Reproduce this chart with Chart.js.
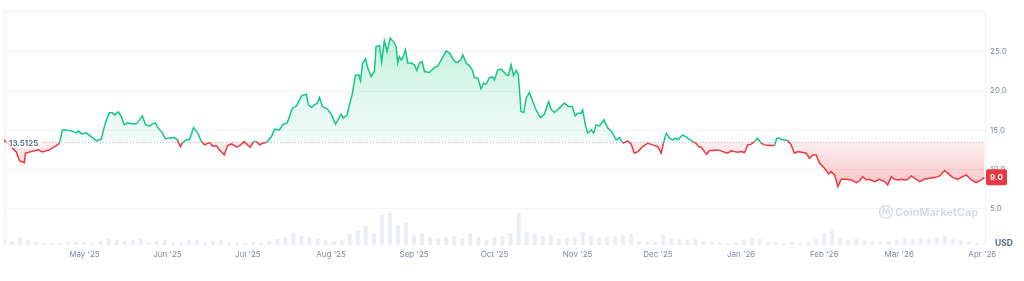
<!DOCTYPE html>
<html>
<head>
<meta charset="utf-8">
<script src="https://cdn.jsdelivr.net/npm/chart.js@4/dist/chart.umd.min.js"></script>
<style>
  html, body { margin: 0; padding: 0; background: #fff; }
  #wrap { width: 1024px; height: 281px; }
</style>
</head>
<body>
<div id="wrap"><canvas id="priceChart"></canvas></div>
<script>
// Days counted from 1 Apr 2025
const priceDays = [
  0, 4.6, 5.8, 6.9, 7.6, 8.0, 8.7, 9.5, 12.8, 14.3,
  16.9, 18.8, 19.9, 20.7, 21.8, 23.3, 25.1, 27.0, 27.8, 28.9,
  30.7, 32.6, 34.5, 36.3, 37.8, 39.3, 40.4, 41.2, 42.7, 43.8,
  44.9, 46.0, 47.5, 49.4, 50.5, 51.6, 52.8, 54.3, 55.4, 56.5,
  57.2, 59.1, 60.2, 61.7, 63.6, 64.7, 65.8, 66.6, 68.1, 69.2,
  70.7, 72.2, 73.7, 74.8, 76.6, 77.8, 79.3, 80.4, 82.2, 83.4,
  84.9, 86.7, 87.8, 89.7, 90.8, 91.9, 93.1, 94.2, 95.3, 96.4,
  97.9, 99.8, 100.9, 102.8, 103.9, 105.7, 107.6, 109.1, 111.0, 112.8,
  113.6, 114.7, 115.8, 116.9, 117.7, 118.8, 120.7, 122.2, 123.7, 125.8,
  126.6, 127.9, 128.9, 130.0, 131.1, 132.4, 133.0, 133.8, 134.9, 135.7,
  137.0, 138.2, 138.8, 140.1, 140.9, 141.9, 142.9, 144.1, 145.7, 146.3,
  146.9, 147.5, 148.2, 148.8, 149.8, 150.6, 151.9, 153.1, 154.0, 155.0,
  156.0, 156.9, 158.7, 160.6, 161.8, 163.1, 165.0, 166.2, 168.1, 169.3,
  170.6, 171.2, 172.4, 173.6, 174.7, 175.5, 176.8, 178.0, 178.9, 179.9,
  181.1, 182.4, 183.0, 184.2, 185.5, 187.4, 188.2, 189.2, 190.1, 191.1,
  191.9, 192.9, 193.9, 194.8, 196.0, 197.3, 198.5, 200.1, 201.6, 203.2,
  204.1, 205.4, 207.2, 209.1, 210.6, 212.0, 213.1, 214.1, 215.3, 215.9,
  216.9, 217.8, 219.1, 220.0, 220.9, 222.2, 223.8, 225.3, 226.5, 228.4,
  229.6, 230.9, 232.7, 234.0, 235.2, 236.5, 238.3, 240.2, 242.0, 243.9,
  245.2, 246.0, 247.1, 248.3, 249.5, 250.5, 251.4, 253.2, 255.1, 257.0,
  258.2, 259.2, 260.1, 261.3, 262.2, 263.2, 264.4, 266.3, 268.2, 270.0,
  271.3, 272.5, 273.8, 275.0, 276.3, 277.5, 278.8, 280.0, 281.2, 282.5,
  283.7, 285.6, 287.5, 288.3, 289.3, 290.6, 292.4, 293.7, 294.9, 296.2,
  298.0, 299.3, 300.5, 301.8, 303.0, 304.3, 306.1, 307.7, 308.6, 309.9,
  311.1, 312.4, 314.2, 316.1, 318.0, 319.2, 320.4, 321.7, 322.9, 324.8,
  326.6, 328.5, 329.7, 331.0, 332.2, 333.5, 334.7, 336.0, 337.2, 338.5,
  339.7, 341.6, 343.4, 345.3, 347.2, 349.1, 350.9, 352.1, 354.0, 355.9,
  357.7, 359.0, 360.9, 362.7, 364.6, 365.8
];
const prices = [
  13.78, 12.24, 11.10, 10.97, 10.84, 12.12, 12.12, 12.24, 12.50, 12.24,
  12.50, 12.88, 13.14, 13.39, 15.05, 15.05, 14.92, 14.67, 14.92, 14.54,
  14.67, 14.16, 13.65, 13.90, 15.94, 17.22, 17.22, 16.96, 17.35, 16.71,
  15.69, 15.94, 15.82, 15.82, 16.33, 16.84, 15.69, 15.56, 15.82, 15.94,
  15.43, 14.67, 13.90, 14.03, 14.07, 13.78, 12.92, 13.39, 13.78, 13.78,
  15.34, 14.71, 13.56, 13.14, 13.43, 13.01, 13.01, 12.50, 11.86, 13.05,
  13.27, 12.88, 13.01, 13.56, 13.14, 12.84, 13.56, 13.56, 13.14, 13.35,
  13.43, 14.20, 15.14, 15.05, 15.69, 15.98, 17.82, 18.11, 19.39, 19.60,
  18.24, 17.90, 18.24, 18.46, 19.17, 18.02, 17.69, 16.96, 15.78, 17.05,
  16.54, 16.88, 18.24, 19.73, 21.98, 22.07, 21.30, 23.56, 24.11, 22.92,
  21.85, 22.49, 25.68, 25.80, 23.69, 26.40, 25.04, 26.75, 26.11, 25.68,
  23.56, 24.40, 23.98, 24.27, 25.26, 23.56, 23.56, 23.34, 22.62, 23.56,
  23.76, 22.49, 22.36, 23.00, 23.13, 23.98, 25.13, 24.83, 23.76, 23.64,
  24.07, 24.62, 23.56, 23.25, 22.70, 21.72, 21.65, 20.28, 21.01, 20.88,
  21.72, 21.77, 21.43, 22.70, 22.79, 22.07, 21.98, 23.34, 21.98, 22.62,
  22.07, 17.39, 17.26, 19.09, 19.81, 18.66, 17.60, 16.62, 17.05, 18.66,
  17.69, 17.26, 17.82, 18.46, 18.02, 18.02, 16.84, 17.18, 17.18, 17.60,
  15.69, 14.63, 15.05, 14.63, 15.69, 15.56, 16.33, 15.27, 14.92, 13.78,
  14.07, 13.35, 13.65, 13.23, 12.08, 12.28, 12.92, 13.35, 13.14, 12.92,
  12.08, 13.35, 14.63, 13.99, 13.78, 13.99, 13.78, 14.41, 13.99, 13.56,
  13.35, 12.92, 12.84, 12.28, 11.95, 12.41, 12.41, 12.50, 12.28, 12.08,
  12.37, 12.28, 12.21, 12.28, 12.16, 13.14, 13.23, 13.56, 13.99, 13.35,
  13.14, 13.05, 13.05, 13.99, 13.99, 13.78, 13.69, 13.14, 12.08, 12.28,
  12.16, 12.08, 11.44, 11.86, 11.86, 10.80, 10.17, 9.44, 9.73, 9.31,
  7.82, 8.76, 8.76, 8.67, 8.33, 8.58, 9.09, 8.67, 8.76, 8.46,
  8.76, 8.46, 8.04, 9.09, 8.76, 8.67, 8.76, 8.67, 8.76, 9.18,
  8.89, 8.46, 8.76, 8.89, 8.97, 9.18, 9.86, 9.53, 8.97, 8.76,
  9.09, 9.31, 8.67, 8.33, 8.67, 9.00
];

// Volume, one value every 3 days from day 0 (arbitrary units)
const volumeStepDays = 3;
const volumes = [
  5, 4, 8, 5, 3, 2, 2, 2, 3, 3,
  3, 2, 4, 6, 5, 4, 5, 6, 3, 4,
  5, 3, 3, 5, 5, 3, 4, 5, 3, 3,
  2, 3, 2, 4, 6, 8, 12, 9, 8, 6,
  5, 4, 5, 11, 14, 19, 12, 30, 32, 20,
  22, 10, 12, 8, 7, 8, 9, 7, 12, 8,
  5, 8, 9, 12, 32, 13, 11, 9, 10, 6,
  7, 8, 13, 9, 8, 8, 9, 10, 11, 4,
  3, 3, 10, 7, 6, 5, 6, 4, 3, 3,
  2, 3, 5, 7, 6, 3, 3, 2, 3, 2,
  3, 6, 12, 15, 8, 5, 6, 5, 4, 3,
  4, 5, 7, 6, 7, 6, 8, 9, 6, 5,
  3, 2
];

const monthDays = [30, 61, 91, 122, 153, 183, 214, 244, 275, 306, 334, 365];
const monthLabels = ["May '25", "Jun '25", "Jul '25", "Aug '25", "Sep '25", "Oct '25",
  "Nov '25", "Dec '25", "Jan '26", "Feb '26", "Mar '26", "Apr '26"];
const priceTicks = [5, 10, 15, 20, 25];
const basePrice = 13.5125;

const GREEN = '#16c784';
const RED = '#ea3943';
const FONT = 'Inter, "Noto Sans", sans-serif';

// one vertical gradient: green above the base price, red below it
function areaGradient(context) {
  const chart = context.chart;
  const area = chart.chartArea;
  if (!area) return 'rgba(0,0,0,0)';
  const y = chart.scales.y;
  const baseY = y.getPixelForValue(basePrice);
  const g = chart.ctx.createLinearGradient(0, area.top, 0, area.bottom);
  let stop = (baseY - area.top) / (area.bottom - area.top);
  stop = Math.min(Math.max(stop, 0), 1);
  g.addColorStop(0, 'rgba(22,199,132,0.30)');
  g.addColorStop(stop, 'rgba(22,199,132,0.05)');
  g.addColorStop(stop, 'rgba(234,57,67,0.08)');
  g.addColorStop(0.75, 'rgba(234,57,67,0.30)');
  g.addColorStop(1, 'rgba(234,57,67,0.40)');
  return g;
}

function roundRect(ctx, x, y, w, h, r) {
  ctx.beginPath();
  ctx.moveTo(x + r, y);
  ctx.arcTo(x + w, y, x + w, y + h, r);
  ctx.arcTo(x + w, y + h, x, y + h, r);
  ctx.arcTo(x, y + h, x, y, r);
  ctx.arcTo(x, y, x + w, y, r);
  ctx.closePath();
}

const decorations = {
  id: 'decorations',
  beforeDatasetsDraw(chart) {
    const { ctx, chartArea: a, scales: { y } } = chart;
    ctx.save();
    // frame: top, left, right
    ctx.strokeStyle = '#eef0f4';
    ctx.lineWidth = 1;
    ctx.beginPath();
    ctx.moveTo(a.left + 0.5, a.bottom);
    ctx.lineTo(a.left + 0.5, a.top + 0.5);
    ctx.lineTo(a.right + 0.5, a.top + 0.5);
    ctx.lineTo(a.right + 0.5, a.bottom);
    ctx.stroke();

    // watermark
    const wy = y.getPixelForValue(4.6);
    ctx.strokeStyle = '#d8dde6';
    ctx.lineWidth = 1.5;
    ctx.beginPath();
    ctx.arc(a.right - 99, wy, 6.5, 0, Math.PI * 2);
    ctx.stroke();
    ctx.beginPath();
    ctx.moveTo(a.right - 103, wy + 3);
    ctx.lineTo(a.right - 101, wy - 3);
    ctx.lineTo(a.right - 99, wy + 1);
    ctx.lineTo(a.right - 97, wy - 3);
    ctx.lineTo(a.right - 95, wy + 3);
    ctx.stroke();
    ctx.fillStyle = '#d3d9e3';
    ctx.font = '600 11px ' + FONT;
    ctx.textAlign = 'left';
    ctx.textBaseline = 'middle';
    ctx.fillText('CoinMarketCap', a.right - 90, wy + 1);

    // dotted base line
    const by = Math.round(y.getPixelForValue(basePrice)) + 0.5;
    ctx.strokeStyle = 'rgba(128,138,157,0.55)';
    ctx.lineWidth = 1;
    ctx.setLineDash([1, 2]);
    ctx.beginPath();
    ctx.moveTo(a.left, by);
    ctx.lineTo(a.right, by);
    ctx.stroke();
    ctx.restore();
  },
  afterDatasetsDraw(chart) {
    const { ctx, chartArea: a, scales: { y } } = chart;
    const by = y.getPixelForValue(basePrice);
    ctx.save();
    ctx.font = '600 8px ' + FONT;
    const label = basePrice.toFixed(4);
    const w = ctx.measureText(label).width + 6;
    ctx.fillStyle = 'rgba(255,255,255,0.75)';
    roundRect(ctx, a.left + 2, by - 4, w, 10, 2);
    ctx.fill();
    ctx.fillStyle = '#58667e';
    ctx.textAlign = 'left';
    ctx.textBaseline = 'middle';
    ctx.fillText(label, a.left + 5, by + 1.5);
    ctx.restore();
  },
  afterDraw(chart) {
    const { ctx, chartArea: a, scales: { y } } = chart;
    const last = prices[prices.length - 1];
    const ly = y.getPixelForValue(last);
    ctx.save();
    ctx.fillStyle = last >= basePrice ? GREEN : RED;
    roundRect(ctx, a.right + 1, ly - 8, 21, 16, 2);
    ctx.fill();
    ctx.fillStyle = '#ffffff';
    ctx.font = '700 8px ' + FONT;
    ctx.textAlign = 'center';
    ctx.textBaseline = 'middle';
    ctx.fillText(last.toFixed(1), a.right + 11.5, ly + 0.5);

    ctx.fillStyle = '#58667e';
    ctx.font = '700 8.5px ' + FONT;
    ctx.textAlign = 'left';
    ctx.fillText('USD', a.right + 10, a.bottom - 2);
    ctx.restore();
  }
};

const ctx = document.getElementById('priceChart').getContext('2d');
new Chart(ctx, {
  data: {
    datasets: [
      {
        type: 'line',
        label: 'Price',
        data: priceDays.map((d, i) => ({ x: d, y: prices[i] })),
        yAxisID: 'y',
        borderColor: GREEN,
        borderWidth: 1.5,
        pointRadius: 0,
        tension: 0,
        backgroundColor: areaGradient,
        fill: { target: { value: basePrice } },
        segment: {
          borderColor: c => ((c.p0.parsed.y + c.p1.parsed.y) / 2 >= basePrice ? GREEN : RED)
        },
        order: 1
      },
      {
        type: 'bar',
        label: 'Volume',
        data: volumes.map((v, i) => ({ x: i * volumeStepDays, y: v })),
        yAxisID: 'y2',
        backgroundColor: '#eaedf2',
        barPercentage: 0.6,
        categoryPercentage: 0.8,
        order: 2
      }
    ]
  },
  options: {
    responsive: true,
    maintainAspectRatio: false,
    animation: false,
    devicePixelRatio: 1,
    layout: { padding: { left: 4, top: 11, right: 0, bottom: 0 } },
    plugins: { legend: { display: false }, tooltip: { enabled: false } },
    scales: {
      x: {
        type: 'linear',
        offset: false,
        min: 0,
        max: 366,
        grid: { display: false, drawTicks: false, offset: false },
        border: { display: false },
        ticks: {
          color: '#808a9d',
          font: { family: FONT, size: 8 },
          padding: 5,
          autoSkip: false,
          maxRotation: 0,
          callback: v => {
            const i = monthDays.indexOf(v);
            return i >= 0 ? monthLabels[i] : '';
          }
        },
        afterBuildTicks: s => { s.ticks = monthDays.map(v => ({ value: v })); },
        afterFit: s => { s.height = 36; }
      },
      y: {
        position: 'right',
        min: 0.38,
        max: 30.2,
        grid: { color: '#f1f3f6', drawTicks: false },
        border: { display: false },
        ticks: {
          color: '#808a9d',
          font: { family: FONT, size: 8 },
          padding: 5,
          callback: v => Number(v).toFixed(1)
        },
        afterBuildTicks: s => { s.ticks = priceTicks.map(v => ({ value: v })); },
        afterFit: s => { s.width = 39; }
      },
      y2: {
        display: false,
        min: 0,
        max: 234
      }
    }
  },
  plugins: [decorations]
});
</script>
</body>
</html>
